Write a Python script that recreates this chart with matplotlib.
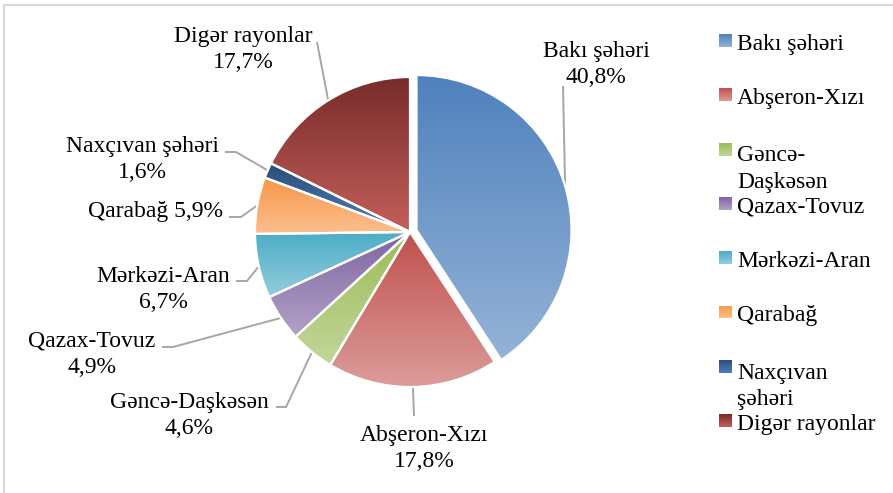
import numpy as np
import matplotlib
matplotlib.use("Agg")
import matplotlib.pyplot as plt
from matplotlib.colors import LinearSegmentedColormap
from matplotlib.patches import Rectangle

plt.rcParams['font.family'] = ['Liberation Serif', 'DejaVu Serif']

# data
regions = ['Bakı şəhəri', 'Abşeron-Xızı', 'Gəncə-Daşkəsən', 'Qazax-Tovuz',
           'Mərkəzi-Aran', 'Qarabağ', 'Naxçıvan şəhəri', 'Digər rayonlar']
legend_names = ['Bakı şəhəri', 'Abşeron-Xızı', 'Gəncə-\nDaşkəsən', 'Qazax-Tovuz',
                'Mərkəzi-Aran', 'Qarabağ', 'Naxçıvan\nşəhəri', 'Digər rayonlar']
shares = [40.8, 17.8, 4.6, 4.9, 6.7, 5.9, 1.6, 17.7]
top_colors = ['#4f81bd', '#c0504d', '#9bbb59', '#8064a2',
              '#4bacc6', '#f79646', '#2c4d75', '#772c2a']
bottom_colors = ['#95b3d7', '#dc9c9a', '#c3d69b', '#b3a2c7',
                 '#93cddd', '#fac08f', '#4f7fbf', '#c45f5c']

W, H = 893, 493


def Y(y):
    # pixel row -> data y
    return H - y


fig = plt.figure(figsize=(W / 100, H / 100), dpi=100)
ax = fig.add_axes([0, 0, 1, 1])

cx, cy, r = 410, Y(232), 155
explode = [6.8, 0, 0, 0, 0, 0, 0, 0]
wedges, _ = ax.pie(shares, startangle=90, counterclock=False, radius=r,
                   center=(cx, cy), explode=explode,
                   wedgeprops=dict(edgecolor='white', linewidth=1.6))

grad = np.linspace(0, 1, 256).reshape(-1, 1)


def fill_gradient(patch, c_top, c_bot, z):
    ext = patch.get_patch_transform().transform_path(patch.get_path()).get_extents()
    cmap = LinearSegmentedColormap.from_list('g', [c_top, c_bot])
    im = ax.imshow(grad, cmap=cmap, aspect='auto', origin='upper',
                   extent=(ext.x0, ext.x1, ext.y0, ext.y1), zorder=z,
                   interpolation='bilinear')
    im.set_clip_path(patch)


for w, c1, c2 in zip(wedges, top_colors, bottom_colors):
    w.set_facecolor('none')
    w.set_zorder(3)
    fill_gradient(w, c1, c2, 2)

# data labels: (x-center, last-line baseline), leader path after the arc point
pct = [f"{v:.1f}".replace('.', ',') + '%' for v in shares]
label_pos = [(596, 83), (424, 467), (189, 434), (92, 373),
             (163, 308), (155, 217), (142, 178), (243, 68)]
leaders = [[(563, 86)], [(414, 416)], [(286, 407), (276, 407)],
           [(173, 347), (162, 347)], [(247, 281), (236, 281)],
           [(241, 217), (229, 217)], [(236, 152), (225, 152)], [(317, 42)]]

for i, w in enumerate(wedges):
    name = regions[i]
    txt = f"{name} {pct[i]}" if name == 'Qarabağ' else f"{name}\n{pct[i]}"
    lx, ly = label_pos[i]
    ax.text(lx, Y(ly), txt, ha='center', va='baseline', fontsize=17,
            linespacing=1.33, multialignment='center', color='black')
    th = np.deg2rad((w.theta1 + w.theta2) / 2)
    wx, wy = w.center
    pts = [(wx + w.r * np.cos(th), wy + w.r * np.sin(th))]
    pts += [(px, Y(py)) for px, py in leaders[i]]
    xs, ys = zip(*pts)
    ax.plot(xs, ys, color='#a6a6a6', lw=1.4, zorder=1, solid_capstyle='butt')

# legend
for i, name in enumerate(legend_names):
    base = 50 + i * 54.3
    sq = Rectangle((719, Y(base - 3)), 13, 13, facecolor='none',
                   edgecolor='none', zorder=3)
    ax.add_patch(sq)
    fill_gradient(sq, top_colors[i], bottom_colors[i], 2)
    last = base + 29 * name.count('\n')
    ax.text(737, Y(last), name, ha='left', va='baseline', fontsize=17,
            linespacing=1.33)

# chart border
ax.plot([4, 4, W + 5], [Y(H + 5), Y(5), Y(5)], color='#d9d9d9', lw=1.5)

ax.set_xlim(0, W)
ax.set_ylim(0, H)
ax.set_aspect('auto')
ax.axis('off')

fig.savefig('out.png', dpi=100, facecolor='white')
